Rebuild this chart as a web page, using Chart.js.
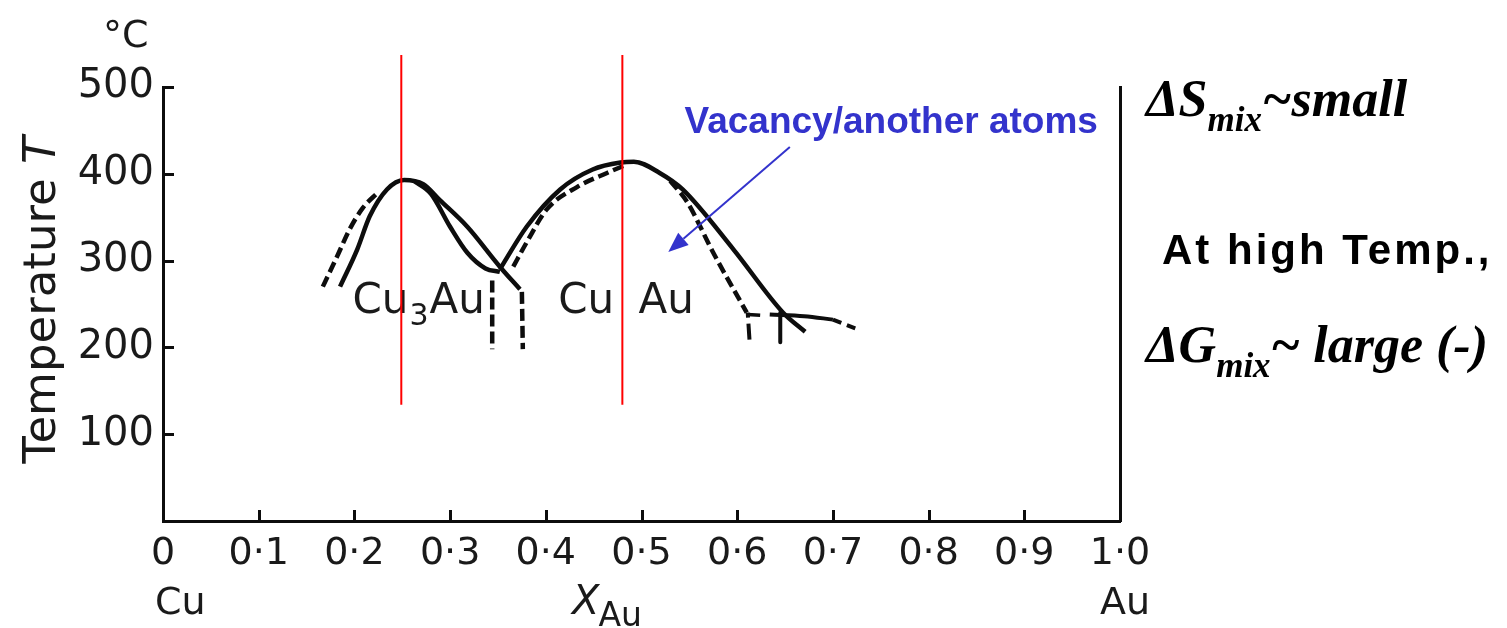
<!DOCTYPE html>
<html><head><meta charset="utf-8">
<script src="https://cdn.jsdelivr.net/npm/chart.js@4.4.1/dist/chart.umd.min.js"></script>
<style>html,body{margin:0;padding:0;background:#fff;}#c{display:block;}</style>
</head><body>
<canvas id="c" width="1507" height="628"></canvas>
<script>
// ---- tick labels ----
const xTickLabels = ['0','0\u00B71','0\u00B72','0\u00B73','0\u00B74','0\u00B75','0\u00B76','0\u00B77','0\u00B78','0\u00B79','1\u00B70'];
const yTickLabels = ['','100','200','300','400','500'];

// ---- curves: [X_Au, T (°C)] ----
const cu3auOuter   = [[0.185,270],[0.203,313],[0.216,351],[0.234,382],[0.252,393],[0.272,388],[0.289,370],[0.318,339],[0.352,293],[0.373,267]];
const cu3auInner   = [[0.262,392],[0.280,377],[0.300,339],[0.318,309],[0.337,291],[0.352,287]];
const cu3auDashed  = [[0.167,270],[0.182,305],[0.195,336],[0.209,361],[0.224,378]];
const cuauSolid    = [[0.352,290],[0.380,339],[0.415,382],[0.449,405],[0.478,413],[0.492,414],[0.519,401],[0.543,382],[0.596,313],[0.648,240],[0.671,218]];
const cuauDashedL  = [[0.366,293],[0.380,321],[0.401,359],[0.433,385],[0.464,401],[0.483,410]];
const cuauDashedR  = [[0.530,392],[0.548,367],[0.575,309],[0.610,240]];
const vertDashedA  = [[0.344,277],[0.344,198]];
const vertDashedB  = [[0.375,264],[0.376,198]];
const tieSolid     = [[0.634,238],[0.670,236],[0.700,232]];
const tieDashed    = [[0.700,232],[0.728,220]];
const vertSolidC   = [[0.645,240],[0.645,206]];
const vertDashDot  = [[0.611,240],[0.613,206]];
const smallTick    = [[0.611,238],[0.624,237]];
const redLineCu3Au = [[0.249,134],[0.249,537]];
const redLineCuAu  = [[0.480,134],[0.480,537]];

// ---- annotation anchors (data space) ----
const labelCu3Au = [0.198,240];
const labelCuAu  = [0.413,240];
const blueLabel  = [0.545,447];
const arrowFrom  = [0.655,431];
const arrowTo    = [0.528,310];

const pts = a => a.map(p => ({x:p[0], y:p[1]}));
const INK = '#0d0d0d';
function curve(data, opts){
  return Object.assign({data:pts(data), showLine:true, pointRadius:0, borderColor:INK, borderWidth:4.5,
    fill:false, clip:false, tension:0, borderCapStyle:'butt', borderJoinStyle:'round'}, opts||{});
}
const MONO = {cubicInterpolationMode:'monotone', tension:0.4};
const DASH = {borderDash:[11,5]};

const datasets = [
  curve(redLineCu3Au,{borderColor:'#ff0000', borderWidth:2}),
  curve(redLineCuAu,{borderColor:'#ff0000', borderWidth:2}),
  curve(cu3auOuter, MONO),
  curve(cu3auInner, MONO),
  curve(cu3auDashed, Object.assign({}, MONO, DASH)),
  curve(cuauSolid, MONO),
  curve(cuauDashedL, Object.assign({}, MONO, DASH)),
  curve(cuauDashedR, Object.assign({}, MONO, DASH)),
  curve(vertDashedA, {borderDash:[12,5]}),
  curve(vertDashedB, {borderDash:[12,5]}),
  curve(tieSolid, Object.assign({}, MONO, {borderWidth:4})),
  curve(tieDashed, {borderDash:[9,6], borderWidth:4}),
  curve(vertSolidC, {borderWidth:4}),
  curve(vertDashDot, {borderDash:[5,6,16,4], borderWidth:4}),
  curve(smallTick, {borderWidth:3.5})
];

function textRuns(ctx, x, y, runs){
  let cx = x;
  for (const r of runs){
    ctx.font = r.font;
    ctx.letterSpacing = r.ls || '0px';
    ctx.wordSpacing = r.ws || '0px';
    ctx.fillText(r.t, cx, y + (r.dy||0));
    cx += ctx.measureText(r.t).width + (r.gap||0);
  }
  ctx.letterSpacing = '0px';
  ctx.wordSpacing = '0px';
  return cx - x;
}

const decor = {
  id:'decor',
  beforeDatasetsDraw(chart){
    const {ctx, scales:{x, y}} = chart;
    ctx.save();
    ctx.fillStyle = '#1a1a1a';
    ctx.textBaseline = 'alphabetic';
    ctx.textAlign = 'left';
    const F = '42px "DejaVu Sans"';
    textRuns(ctx, x.getPixelForValue(labelCu3Au[0]), y.getPixelForValue(labelCu3Au[1]), [
      {t:'Cu', font:F, gap:1}, {t:'3', font:'30px "DejaVu Sans"', dy:12, gap:1}, {t:'Au', font:F}
    ]);
    textRuns(ctx, x.getPixelForValue(labelCuAu[0]), y.getPixelForValue(labelCuAu[1]), [
      {t:'Cu Au', font:F, ws:'11px'}
    ]);
    ctx.restore();
  },
  afterDraw(chart){
    const {ctx, chartArea:ca, scales:{x, y}} = chart;
    ctx.save();
    // inward tick marks
    ctx.strokeStyle = INK; ctx.lineWidth = 3; ctx.lineCap = 'butt';
    x.ticks.forEach((t, i) => {
      if (i === 0 || i === x.ticks.length - 1) return;
      const px = Math.round(x.getPixelForValue(t.value)) + 0.5;
      ctx.beginPath(); ctx.moveTo(px, ca.bottom); ctx.lineTo(px, ca.bottom - 11); ctx.stroke();
    });
    y.ticks.forEach(t => {
      if (t.value === 0) return;
      const py = Math.round(y.getPixelForValue(t.value)) + 0.5;
      ctx.beginPath(); ctx.moveTo(ca.left, py); ctx.lineTo(ca.left + 11, py); ctx.stroke();
    });

    ctx.fillStyle = '#1a1a1a';
    ctx.textBaseline = 'alphabetic';
    ctx.textAlign = 'left';
    // degree C
    ctx.font = '38px "DejaVu Sans"';
    ctx.fillText('\u00B0C', 103, 47);
    // y title
    ctx.save();
    ctx.translate(55, 300);
    ctx.rotate(-Math.PI/2);
    const TF = '45px "DejaVu Sans"', TFI = 'italic 45px "DejaVu Sans"';
    ctx.font = TF;
    const w1 = ctx.measureText('Temperature ').width;
    ctx.font = TFI;
    const w2 = ctx.measureText('T').width;
    textRuns(ctx, -(w1 + w2)/2, 0, [
      {t:'Temperature ', font:TF}, {t:'T', font:TFI}
    ]);
    ctx.restore();
    // x axis bottom labels
    ctx.font = '38px "DejaVu Sans"';
    ctx.fillText('Cu', 155, 614);
    ctx.fillText('Au', 1100, 614);
    textRuns(ctx, 572, 614, [
      {t:'X', font:'italic 40px "DejaVu Sans"', gap:-1}, {t:'Au', font:'33px "DejaVu Sans"', dy:12}
    ]);

    // blue label + arrow
    ctx.fillStyle = '#3333cc';
    ctx.font = 'bold 37px "Liberation Sans"';
    ctx.fillText('Vacancy/another atoms', x.getPixelForValue(blueLabel[0]), y.getPixelForValue(blueLabel[1]));
    const ax0 = x.getPixelForValue(arrowFrom[0]), ay0 = y.getPixelForValue(arrowFrom[1]);
    const ax1 = x.getPixelForValue(arrowTo[0]), ay1 = y.getPixelForValue(arrowTo[1]);
    const ang = Math.atan2(ay1 - ay0, ax1 - ax0);
    const hl = 20, hw = 8;
    const bx = ax1 - hl*Math.cos(ang), by = ay1 - hl*Math.sin(ang);
    ctx.strokeStyle = '#3333cc'; ctx.lineWidth = 2;
    ctx.beginPath(); ctx.moveTo(ax0, ay0); ctx.lineTo(bx, by); ctx.stroke();
    ctx.beginPath();
    ctx.moveTo(ax1, ay1);
    ctx.lineTo(bx + hw*Math.sin(ang), by - hw*Math.cos(ang));
    ctx.lineTo(bx - hw*Math.sin(ang), by + hw*Math.cos(ang));
    ctx.closePath(); ctx.fill();

    // right-side notes
    ctx.fillStyle = '#000';
    const SI = 'italic bold 52px "Liberation Serif"', SS = 'italic bold 35px "Liberation Serif"';
    textRuns(ctx, 1146, 116, [
      {t:'\u0394S', font:SI}, {t:'mix', font:SS, dy:15}, {t:'~small', font:SI}
    ]);
    textRuns(ctx, 1162, 264, [
      {t:'At high Temp.,', font:'bold 42px "Liberation Sans"', ls:'3px'}
    ]);
    textRuns(ctx, 1146, 362, [
      {t:'\u0394G', font:SI}, {t:'mix', font:SS, dy:15}, {t:'~ large (-)', font:SI}
    ]);
    ctx.restore();
  }
};

new Chart(document.getElementById('c'), {
  type:'scatter',
  data:{datasets},
  options:{
    responsive:false,
    animation:false,
    events:[],
    layout:{padding:{left:0, top:87, right:387, bottom:0}},
    plugins:{legend:{display:false}, tooltip:{enabled:false}},
    scales:{
      x:{type:'linear', min:0, max:1,
        grid:{display:false, drawTicks:false},
        border:{display:true, color:INK, width:3},
        ticks:{stepSize:0.1, autoSkip:false, maxRotation:0, padding:10, color:'#1a1a1a',
          font:{family:'DejaVu Sans', size:38},
          callback:(v, i) => xTickLabels[i]},
        afterFit:s => { s.height = 107; }
      },
      y:{type:'linear', min:0, max:500, position:'left',
        grid:{display:false, drawTicks:false},
        border:{display:true, color:INK, width:3},
        ticks:{stepSize:100, padding:9, color:'#1a1a1a',
          font:{family:'DejaVu Sans', size:40},
          callback:(v, i) => yTickLabels[i]},
        afterFit:s => { s.width = 163; }
      },
      y2:{type:'linear', min:0, max:500, position:'right',
        grid:{display:false, drawTicks:false},
        border:{display:true, color:INK, width:3},
        ticks:{display:false},
        afterFit:s => { s.width = 0; }
      }
    }
  },
  plugins:[decor]
});
</script>
</body></html>
